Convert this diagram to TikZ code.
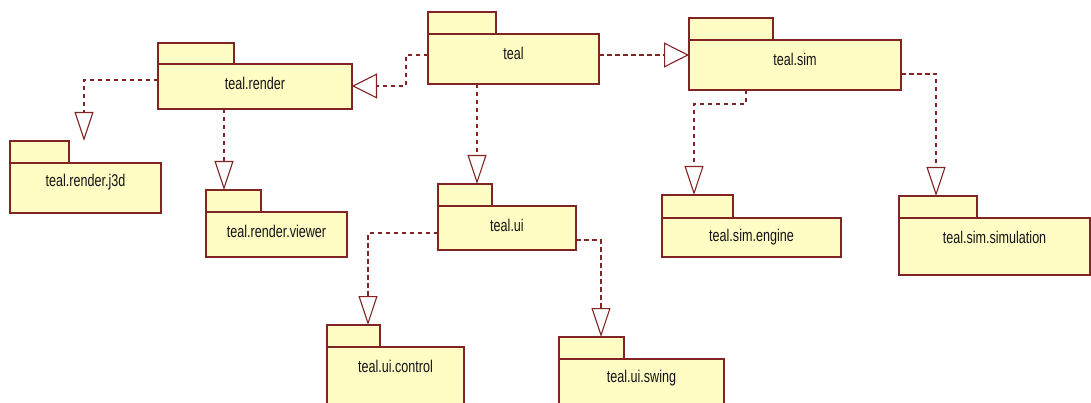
\documentclass[tikz,border=0pt]{standalone}
\usepackage{fontspec}
\setmainfont{Liberation Sans}
\newfontfamily\lblfont[FakeStretch=0.74]{Liberation Sans}
\usetikzlibrary{arrows.meta}
\definecolor{lc}{RGB}{128,36,36}
\definecolor{fc}{RGB}{255,252,196}
\definecolor{tc}{RGB}{20,20,20}
\tikzset{
  pkg/.style={draw=lc, fill=fc, line width=1.2pt, inner sep=0pt, outer sep=0pt, rectangle},
  pkgtext/.style={text=tc, font=\lblfont\fontsize{17}{19}\selectfont, inner sep=0pt},
  dep/.style={draw=lc, line width=1.2pt, dash pattern=on 4.5pt off 3.5pt},
  vtip/.style={-{Triangle[open, length=29pt, width=19pt, line width=1.1pt]}},
  htip/.style={-{Triangle[open, length=25pt, width=25pt, line width=1.1pt]}},
}
\newcommand\pkgbox[8]{%
  \node[pkg, minimum width=#4pt, minimum height=#5pt, anchor=north west] (#1) at (#2,#3) {};
  \node[pkg, minimum width=#6pt, minimum height=#7pt, anchor=south west] (#1-tab) at (#1.north west) {};
  \node[pkgtext] (#1-label) at ([yshift=-19pt]#1.north) {#8};
}
\begin{document}
\begin{tikzpicture}[x=1pt, y=-1pt]
\useasboundingbox (0,0) rectangle (1091,403);
\clip (0,0) rectangle (1091,403);
\fill[white] (0,0) rectangle (1091,403);

\pkgbox{teal}{428}{34}{171}{50}{68}{22}{teal}
\pkgbox{render}{158}{64}{194}{45}{76}{21}{teal.render}
\pkgbox{sim}{689}{40}{212}{50}{84}{22}{teal.sim}
\pkgbox{j3d}{10}{163}{151}{50}{59}{22}{teal.render.j3d}
\pkgbox{viewer}{206}{212}{141}{45}{55}{22}{teal.render.viewer}
\pkgbox{ui}{438}{206}{138}{44}{54}{22}{teal.ui}
\pkgbox{engine}{662}{218}{179}{39}{71}{23}{teal.sim.engine}
\pkgbox{simulation}{899}{218}{191}{57}{78}{22}{teal.sim.simulation}
\pkgbox{control}{327}{347}{137}{70}{53}{22}{teal.ui.control}
\pkgbox{swing}{559}{359}{165}{60}{65}{22}{teal.ui.swing}

% connectors
\draw[dep, htip] (teal.west |- 0,55) -| (406,86) -- (render.east |- 0,86);
\draw[dep, htip] (teal.east |- 0,55) -- (sim.west |- 0,55);
\draw[dep, vtip] (teal.south -| 477,0) -- (ui-tab.north -| 477,0);
\draw[dep, vtip] (render.west |- 0,80) -| (j3d-tab.north -| 84,0);
\draw[dep, vtip] (render.south -| 224,0) -- (viewer-tab.north -| 224,0);
\draw[dep, vtip] (sim.south -| 746,0) -- (746,104) -| (engine-tab.north -| 694,0);
\draw[dep, vtip] (sim.east |- 0,74) -| (simulation-tab.north -| 936,0);
\draw[dep, vtip] (ui.west |- 0,233) -| (control-tab.north -| 368,0);
\draw[dep, vtip] (ui.east |- 0,240) -| (swing-tab.north -| 601,0);
\end{tikzpicture}
\end{document}
